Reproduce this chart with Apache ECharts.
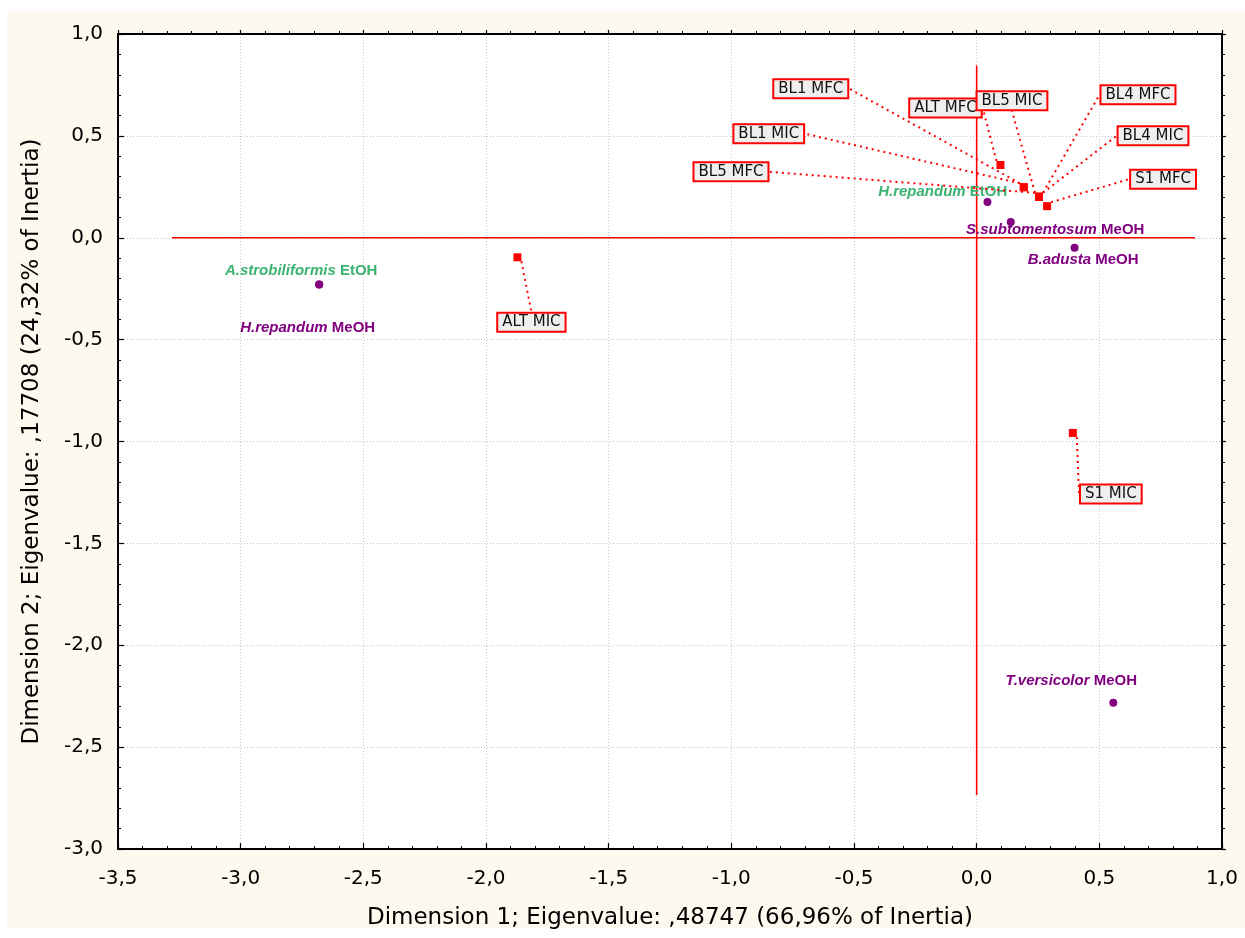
<!DOCTYPE html>
<html>
<head>
<meta charset="utf-8">
<script src="https://cdn.jsdelivr.net/npm/echarts@6/dist/echarts.min.js"></script>
<style>
html,body{margin:0;padding:0;background:#ffffff;}
#bg{position:absolute;left:7px;top:11px;width:1238px;height:917px;background:#fdf9ee;}
#c{position:absolute;left:0;top:0;width:1245px;height:938px;}
</style>
</head>
<body>
<div id="bg"></div>
<div id="c"></div>
<script>
// ---------- DATA ----------
const xTitle = 'Dimension 1; Eigenvalue: ,48747 (66,96% of Inertia)';
const yTitle = 'Dimension 2; Eigenvalue: ,17708 (24,32% of Inertia)';

// column points (extracts)
const speciesNames   = ['A.strobiliformis', 'H.repandum', 'H.repandum', 'S.subtomentosum', 'B.adusta', 'T.versicolor'];
const speciesSolvent = ['EtOH', 'MeOH', 'EtOH', 'MeOH', 'MeOH', 'MeOH'];
const speciesX       = [-2.68, -2.68, 0.044, 0.139, 0.399, 0.557];
const speciesY       = [-0.23, -0.23, 0.175, 0.077, -0.049, -2.282];

// row points (strains / measures)
const strainLabels = ['BL1 MFC', 'BL1 MIC', 'ALT MFC', 'BL5 MIC', 'BL4 MFC', 'BL4 MIC', 'BL5 MFC', 'S1 MFC', 'ALT MIC', 'S1 MIC'];
const strainX      = [0.192, 0.192, 0.097, 0.254, 0.254, 0.254, 0.254, 0.287, -1.872, 0.392];
const strainY      = [0.248, 0.248, 0.357, 0.201, 0.201, 0.201, 0.201, 0.155, -0.096, -0.958];

// origin reference lines
const hLineX = [-3.28, 0.89];
const hLineY = [0, 0];
const vLineX = [0, 0];
const vLineY = [0.845, -2.735];

// axis ranges
const xMin = -3.5, xMax = 1.0, xStep = 0.5;
const yMin = -3.0, yMax = 1.0, yStep = 0.5;

// ---------- STYLE / LABEL PLACEMENT (pixel offsets from the mark) ----------
const strainLabelOffsets = [
  [-213, -98.5], [-255, -53.5], [-55, -57], [-27, -96], [99, -102],
  [114, -61], [-308, -25], [116, -27], [14, 65], [38, 61]
];
const speciesLabelOffsets = [
  [-18, -13.6], [-11.5, 43], [-44.7, -10.4], [44.5, 8], [8.6, 12.3], [-42, -22]
];
const solventColor = { EtOH: '#3cb371', MeOH: '#800080' };

const fmt = v => v.toFixed(1).replace('.', ',');
const tickFont = 'DejaVu Sans';

const speciesData = speciesX.map((x, i) => ({
  value: [x, speciesY[i]],
  name: speciesNames[i],
  label: { color: solventColor[speciesSolvent[i]] }
}));
const strainData = strainX.map((x, i) => ({ value: [x, strainY[i]], name: strainLabels[i] }));

function mainXAxis() {
  return {
    type: 'value', min: xMin, max: xMax, interval: xStep, position: 'bottom',
    axisLine: { show: true, onZero: false, lineStyle: { color: '#000', width: 2 } },
    axisTick: { show: true, inside: true, length: 6, lineStyle: { color: '#000', width: 1.2 } },
    minorTick: { show: true, splitNumber: 5, length: 3, lineStyle: { color: '#000', width: 1 } },
    splitLine: { show: true, lineStyle: { color: '#c4c4c4', width: 1, type: [1, 2] } },
    axisLabel: { formatter: fmt, fontSize: 20, color: '#000', margin: 20, fontFamily: tickFont },
    name: xTitle, nameLocation: 'middle', nameGap: 58,
    nameTextStyle: { fontSize: 23, color: '#000', fontFamily: tickFont }
  };
}
function mainYAxis() {
  return {
    type: 'value', min: yMin, max: yMax, interval: yStep, position: 'left',
    axisLine: { show: true, onZero: false, lineStyle: { color: '#000', width: 2 } },
    axisTick: { show: true, inside: true, length: 6, lineStyle: { color: '#000', width: 1.2 } },
    minorTick: { show: true, splitNumber: 5, length: 3, lineStyle: { color: '#000', width: 1 } },
    splitLine: { show: true, lineStyle: { color: '#c4c4c4', width: 1, type: [1, 2] } },
    axisLabel: { formatter: fmt, fontSize: 20, color: '#000', margin: 15, fontFamily: tickFont },
    name: yTitle, nameLocation: 'middle', nameGap: 74,
    nameTextStyle: { fontSize: 23, color: '#000', fontFamily: tickFont }
  };
}

const option = {
  animation: false,
  backgroundColor: 'transparent',
  grid: { left: 118, right: 23, top: 34, bottom: 89, show: true, backgroundColor: '#ffffff', borderWidth: 0 },
  xAxis: [
    mainXAxis(),
    {
      type: 'value', min: xMin, max: xMax, interval: xStep, position: 'top',
      axisLine: { show: true, onZero: false, lineStyle: { color: '#000', width: 2 } },
      axisTick: { show: true, inside: false, length: 4, lineStyle: { color: '#000', width: 1.2 } },
      minorTick: { show: true, splitNumber: 5, length: 3, lineStyle: { color: '#000', width: 1 } },
      splitLine: { show: false }, axisLabel: { show: false }
    }
  ],
  yAxis: [
    mainYAxis(),
    {
      type: 'value', min: yMin, max: yMax, interval: yStep, position: 'right',
      axisLine: { show: true, onZero: false, lineStyle: { color: '#000', width: 2 } },
      axisTick: { show: true, inside: false, length: 4, lineStyle: { color: '#000', width: 1.2 } },
      minorTick: { show: true, splitNumber: 5, length: 3, lineStyle: { color: '#000', width: 1 } },
      splitLine: { show: false }, axisLabel: { show: false }
    }
  ],
  series: [
    {
      type: 'line', xAxisIndex: 0, yAxisIndex: 0, symbol: 'none', silent: true, z: 1,
      data: hLineX.map((x, i) => [x, hLineY[i]]),
      lineStyle: { color: '#ff0000', width: 1.6 }
    },
    {
      type: 'line', xAxisIndex: 0, yAxisIndex: 0, symbol: 'none', silent: true, z: 1,
      data: vLineX.map((x, i) => [x, vLineY[i]]),
      lineStyle: { color: '#ff0000', width: 1.6 }
    },
    {
      type: 'scatter', name: 'species', xAxisIndex: 0, yAxisIndex: 0, z: 3,
      symbol: 'circle', symbolSize: 8,
      itemStyle: { color: '#800080', opacity: 1 },
      data: speciesData,
      emphasis: { disabled: true },
      label: {
        show: true, position: 'inside', opacity: 1,
        formatter: p => `{n|${speciesNames[p.dataIndex]}} {s|${speciesSolvent[p.dataIndex]}}`,
        fontSize: 15, fontWeight: 'bold', fontFamily: 'Liberation Sans',
        rich: {
          n: { fontStyle: 'italic', fontWeight: 'bold', fontSize: 15, fontFamily: 'Liberation Sans' },
          s: { fontWeight: 'bold', fontSize: 15, fontFamily: 'Liberation Sans' }
        }
      },
      labelLine: { show: false },
      labelLayout: p => ({ dx: speciesLabelOffsets[p.dataIndex][0], dy: speciesLabelOffsets[p.dataIndex][1] })
    },
    {
      type: 'scatter', name: 'strains', xAxisIndex: 0, yAxisIndex: 0, z: 4,
      symbol: 'rect', symbolSize: 8,
      itemStyle: { color: '#ff0000', opacity: 1 },
      data: strainData,
      emphasis: { disabled: true },
      label: {
        show: true, position: 'inside', formatter: '{b}', opacity: 1,
        fontSize: 15, fontFamily: 'DejaVu Sans', color: '#111',
        backgroundColor: '#efefef', borderColor: '#ff0000', borderWidth: 2,
        padding: [1, 4, 1, 4], lineHeight: 15
      },
      labelLine: { show: true, length2: 0, lineStyle: { color: '#ff0000', width: 2, type: [2, 4], opacity: 1 } },
      labelLayout: p => ({ dx: strainLabelOffsets[p.dataIndex][0], dy: strainLabelOffsets[p.dataIndex][1] })
    }
  ]
};

const chart = echarts.init(document.getElementById('c'), null, { renderer: 'canvas' });
chart.setOption(option);
</script>
</body>
</html>
